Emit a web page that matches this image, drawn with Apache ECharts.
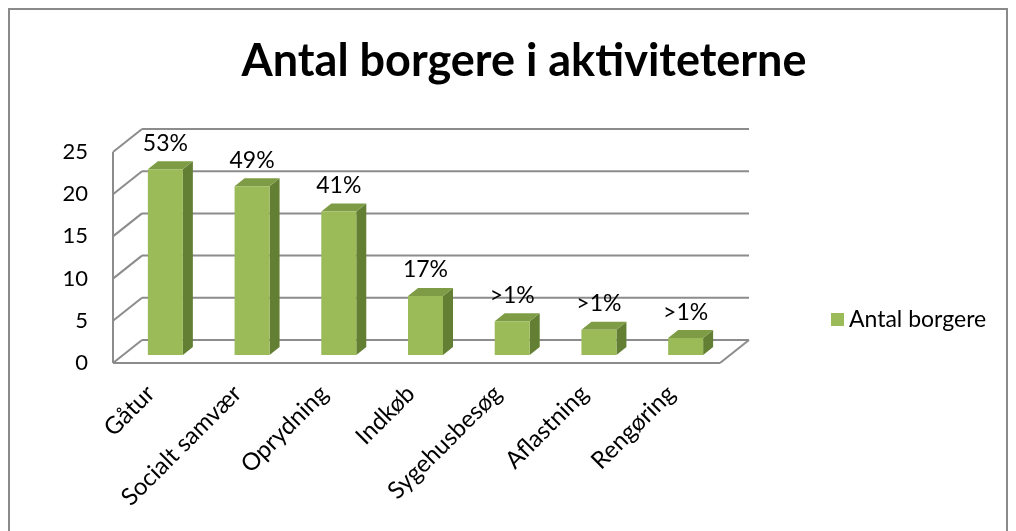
<!DOCTYPE html>
<html>
<head>
<meta charset="utf-8">
<script src="https://cdn.jsdelivr.net/npm/echarts@6/dist/echarts.min.js"></script>
<style>
  html, body { margin: 0; padding: 0; background: #fff; }
  #chart { width: 1016px; height: 531px; }
</style>
</head>
<body>
<div id="chart"></div>
<script>
// data
var categories = ["Gåtur", "Socialt samvær", "Oprydning", "Indkøb", "Sygehusbesøg", "Aflastning", "Rengøring"];
var borgere = [22, 20, 17, 7, 4, 3, 2];
var pctLabels = ["53%", "49%", "41%", "17%", ">1%", ">1%", ">1%"];
var yTicks = [0, 5, 10, 15, 20, 25];

// depth of the 3d box (px)
var DX = 29, DY = 23;
var GRID_COLOR = "#8c8c8c";

var chart = echarts.init(document.getElementById("chart"));

function line(x1, y1, x2, y2) {
    return {
        type: "line",
        shape: { x1: x1, y1: y1, x2: x2, y2: y2 },
        style: { stroke: GRID_COLOR, lineWidth: 2 }
    };
}

chart.setOption({
    animation: false,
    title: {
        text: "Antal borgere i aktiviteterne",
        left: 519,
        top: 34,
        textAlign: "center",
        textStyle: {
            fontFamily: "Lato",
            fontWeight: "bold",
            fontSize: 45,
            color: "#000"
        }
    },
    legend: {
        data: ["Antal borgere"],
        left: 826,
        top: 303,
        icon: "rect",
        itemWidth: 13,
        itemHeight: 13,
        itemGap: 6,
        textStyle: { fontFamily: "Lato", fontSize: 23, color: "#000" }
    },
    graphic: [{
        type: "rect",
        shape: { x: 9, y: 9, width: 998, height: 540 },
        style: { fill: null, stroke: "#8a8a8a", lineWidth: 2 },
        silent: true
    }],
    grid: {
        left: 113,
        right: 296,
        top: 152,
        bottom: 168
    },
    xAxis: {
        type: "category",
        data: categories,
        axisLine: { show: false },
        axisTick: { show: false },
        axisLabel: {
            rotate: 45,
            margin: 21,
            padding: [0, 8, 0, 0],
            interval: 0,
            fontFamily: "Lato",
            fontSize: 24,
            color: "#000"
        }
    },
    yAxis: {
        type: "value",
        min: 0,
        max: 25,
        interval: 5,
        axisLine: { show: false },
        axisTick: { show: false },
        splitLine: { show: false },
        axisLabel: {
            margin: 25,
            fontFamily: "Lato",
            fontSize: 22,
            color: "#000"
        }
    },
    series: [
        {
            // walls and floor of the 3d box
            type: "custom",
            silent: true,
            data: yTicks.map(function (t) { return [0, t]; }),
            z: 1,
            renderItem: function (params, api) {
                var cs = params.coordSys;
                var v = api.value(1);
                var y = api.coord([0, v])[1];
                var l = cs.x, r = cs.x + cs.width;
                var kids = [
                    line(l, y, l + DX, y - DY),
                    line(l + DX, y - DY, r + DX, y - DY)
                ];
                if (v === 0) {
                    kids.push(line(l, y, r, y));
                    kids.push(line(r, y, r + DX, y - DY));
                    kids.push(line(l, y, l, cs.y));
                }
                return { type: "group", children: kids };
            }
        },
        {
            name: "Antal borgere",
            type: "custom",
            data: borgere.map(function (v, i) { return [i, v]; }),
            z: 3,
            itemStyle: { color: "#9bbb59" },
            renderItem: function (params, api) {
                var i = params.dataIndex;
                var base = api.coord([api.value(0), 0]);
                var top = api.coord([api.value(0), api.value(1)]);
                var w = 35, off = 9, dx = 10, dy = 8;
                var x0 = base[0] - w / 2 + off, x1 = x0 + w;
                var yb = base[1] - 8, yt = top[1] - 8;
                return {
                    type: "group",
                    children: [
                        {
                            type: "polygon",
                            shape: { points: [[x1, yt], [x1 + dx, yt - dy], [x1 + dx, yb - dy], [x1, yb]] },
                            style: { fill: "#637f33" }
                        },
                        {
                            type: "polygon",
                            shape: { points: [[x0, yt], [x1, yt], [x1 + dx, yt - dy], [x0 + dx, yt - dy]] },
                            style: { fill: "#7e9c45" }
                        },
                        {
                            type: "rect",
                            shape: { x: x0, y: yt, width: w, height: yb - yt },
                            style: { fill: "#9bbb59" }
                        },
                        {
                            type: "text",
                            x: x0 + w / 2,
                            y: yt - 26,
                            style: {
                                text: pctLabels[i],
                                fontFamily: "Lato",
                                fontSize: 23,
                                fill: "#000",
                                align: "center",
                                verticalAlign: "middle"
                            }
                        }
                    ]
                };
            }
        }
    ]
});
</script>
</body>
</html>
